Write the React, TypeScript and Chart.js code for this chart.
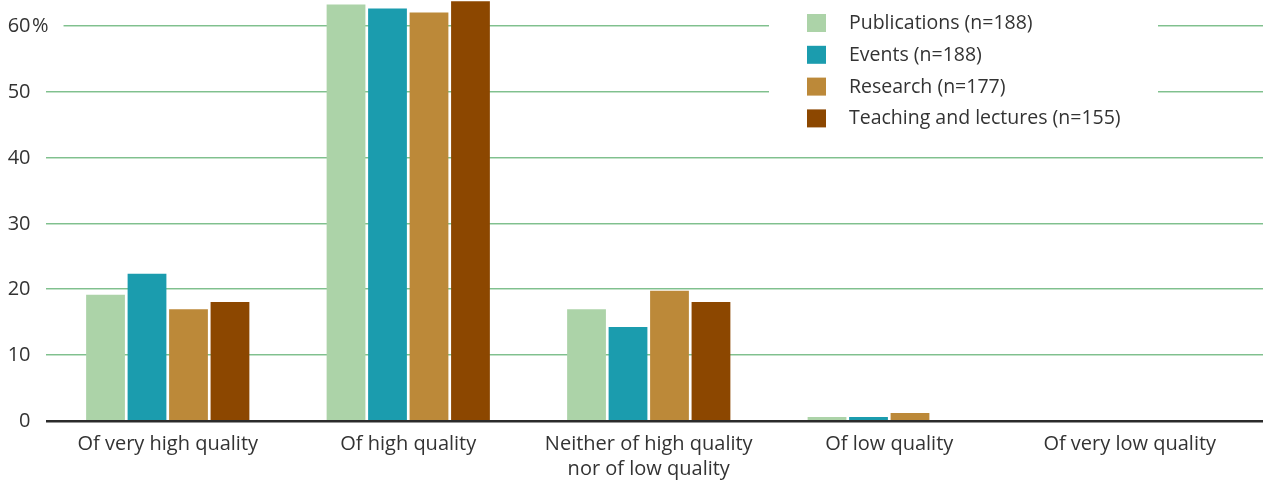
import React, { useEffect, useRef } from "react";
import { Chart, registerables } from "chart.js";

Chart.register(...registerables);

const categories: string[][] = [
  ["Of very high quality"],
  ["Of high quality"],
  ["Neither of high quality", "nor of low quality"],
  ["Of low quality"],
  ["Of very low quality"],
];
const publications = [19.2, 63.3, 17.0, 0.6, 0];
const events = [22.4, 62.7, 14.3, 0.6, 0];
const research = [17.0, 62.1, 19.8, 1.2, 0];
const teaching = [18.1, 63.8, 18.1, 0, 0];
const seriesLabels = [
  "Publications (n=188)",
  "Events (n=188)",
  "Research (n=177)",
  "Teaching and lectures (n=155)",
];
const seriesColors = ["#acd3a8", "#1b9cae", "#bc8939", "#8c4700"];
const yTicks = [0, 10, 20, 30, 40, 50, 60];

const FONT = '"Open Sans", "Noto Sans", sans-serif';
const TEXT = "#333333";

const customDraw = {
  id: "customDraw",
  beforeDatasetsDraw(chart: any) {
    const ctx = chart.ctx as CanvasRenderingContext2D;
    const y = chart.scales.y;
    ctx.save();
    ctx.font = `20px ${FONT}`;
    ctx.fillStyle = TEXT;
    ctx.textBaseline = "middle";
    for (const t of yTicks) {
      const py = Math.round(y.getPixelForValue(t));
      ctx.textAlign = "right";
      ctx.fillStyle = TEXT;
      ctx.fillText(String(t), 30.5, py);
      let end = 30;
      if (t === yTicks[yTicks.length - 1]) {
        ctx.textAlign = "left";
        ctx.fillText("%", 32, py);
        end = 32 + ctx.measureText("%").width;
      }
      if (t > 0) {
        const x0 = Math.max(46, end + 15);
        ctx.fillStyle = "#80c08e";
        ctx.fillRect(x0, py - 1, chart.width - x0, 1);
        ctx.fillStyle = "#c3e2c9";
        ctx.fillRect(x0, py, chart.width - x0, 1);
      }
    }
    ctx.restore();
  },
  afterDatasetsDraw(chart: any) {
    const ctx = chart.ctx as CanvasRenderingContext2D;
    const py = chart.scales.y.getPixelForValue(0);
    ctx.save();
    ctx.fillStyle = "#2b2b2b";
    ctx.fillRect(46, py - 1, chart.width - 46, 2.5);
    ctx.restore();
  },
  afterDraw(chart: any) {
    const ctx = chart.ctx as CanvasRenderingContext2D;
    ctx.save();
    ctx.fillStyle = "#ffffff";
    ctx.fillRect(769, 0, 1158 - 769, 136);
    ctx.font = `19.5px ${FONT}`;
    ctx.textBaseline = "middle";
    ctx.textAlign = "left";
    chart.data.datasets.forEach((ds: any, i: number) => {
      const cy = 23 + i * 31.8;
      ctx.fillStyle = ds.backgroundColor;
      ctx.fillRect(807, cy - 9, 19, 18);
      ctx.fillStyle = TEXT;
      ctx.fillText(ds.label, 849, cy + 0.5);
    });
    ctx.restore();
  },
};

export default function App() {
  const ref = useRef<HTMLCanvasElement | null>(null);
  useEffect(() => {
    if (!ref.current) return;
    const series = [publications, events, research, teaching];
    const chart = new Chart(ref.current, {
      type: "bar",
      data: {
        labels: categories,
        datasets: series.map((d, i) => ({
          label: seriesLabels[i],
          data: d,
          backgroundColor: seriesColors[i],
          borderWidth: 0,
          barPercentage: 0.935,
          categoryPercentage: 0.69,
        })),
      },
      options: {
        animation: false,
        responsive: false,
        maintainAspectRatio: false,
        devicePixelRatio: 1,
        layout: { padding: { left: 47.5, right: 13, top: 0, bottom: 0 } },
        plugins: { legend: { display: false }, tooltip: { enabled: false } },
        scales: {
          y: { display: false, min: 0, max: 64 },
          x: {
            grid: { display: false, drawTicks: false },
            border: { display: false },
            ticks: {
              color: TEXT,
              font: { family: FONT, size: 20, lineHeight: 1.25 },
              padding: 11,
              maxRotation: 0,
              autoSkip: false,
            },
            afterFit: (scale: any) => {
              scale.height = 62;
            },
          },
        },
      },
      plugins: [customDraw],
    });
    return () => chart.destroy();
  }, []);
  return (
    <div style={{ position: "absolute", left: 0, top: 0, width: 1263, height: 483, background: "#fff" }}>
      <canvas ref={ref} width={1263} height={483} style={{ width: 1263, height: 483, display: "block" }} />
    </div>
  );
}
